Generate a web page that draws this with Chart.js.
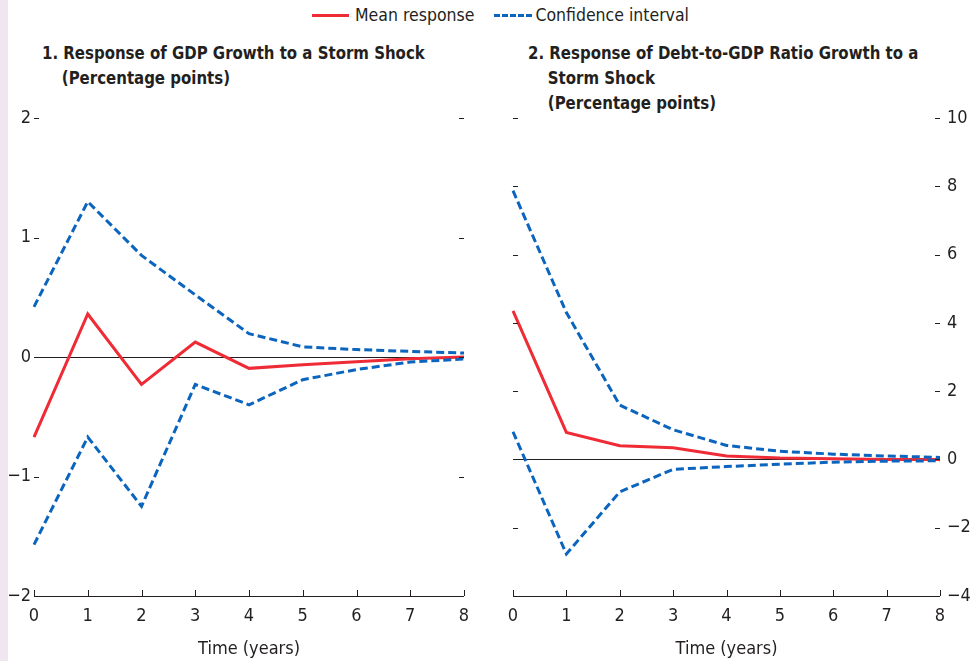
<!DOCTYPE html>
<html>
<head>
<meta charset="utf-8">
<script src="https://cdn.jsdelivr.net/npm/chart.js@4/dist/chart.umd.min.js"></script>
<style>
  body { margin: 0; width: 971px; height: 661px; background: #fff; overflow: hidden; position: relative;
         font-family: "DejaVu Sans Condensed", "Roboto", sans-serif; color: #231f20; }
  .strip { position: absolute; left: 0; top: 0; width: 8px; height: 661px; background: #efe6f0; }
  .legend { position: absolute; top: 5px; left: 312px; font-size: 17.5px; display: flex; align-items: center; white-space: nowrap; }
  .legend .key { display: inline-block; width: 37px; height: 0; margin-right: 6px; }
  .legend .mean { border-top: 3px solid #ef2b36; }
  .legend .ci { border-top: 3px dashed #0b64bd; width: 38px; margin-left: 20px; margin-right: 3px; }
  .title { position: absolute; font-weight: bold; font-size: 18.5px; line-height: 25px; padding-left: 22px; text-indent: -22px;
           white-space: nowrap; transform: scaleX(0.9); transform-origin: left top; }
  canvas { position: absolute; top: 0; }
</style>
</head>
<body>
<div class="strip"></div>
<div class="legend"><span class="key mean"></span>Mean response<span class="key ci"></span>Confidence interval</div>
<div class="title" style="left:42px; top:40px;">1. Response of GDP Growth to a Storm Shock<br>(Percentage points)</div>
<div class="title" style="left:528px; top:40px;">2. Response of Debt-to-GDP Ratio Growth to a<br>Storm Shock<br>(Percentage points)</div>
<div style="position:absolute; left:0; width:490px; height:661px;"><canvas id="gdpChart"></canvas></div>
<div style="position:absolute; left:490px; width:481px; height:661px;"><canvas id="debtChart"></canvas></div>
<script>
// years after the shock
const years = [0, 1, 2, 3, 4, 5, 6, 7, 8];

// panel 1: GDP growth, percentage points
const gdpMean  = [-0.67, 0.36, -0.23, 0.125, -0.095, -0.065, -0.04, -0.015, 0.0];
const gdpUpper = [0.42, 1.30, 0.85, 0.52, 0.195, 0.085, 0.062, 0.047, 0.033];
const gdpLower = [-1.57, -0.67, -1.25, -0.23, -0.40, -0.19, -0.105, -0.042, -0.017];
const gdpTicks = [-2, -1, 0, 1, 2];

// panel 2: debt-to-GDP ratio growth, percentage points
const debtMean  = [4.35, 0.79, 0.40, 0.34, 0.10, 0.04, 0.02, 0.0, 0.0];
const debtUpper = [7.87, 4.3, 1.59, 0.87, 0.41, 0.24, 0.155, 0.10, 0.06];
const debtLower = [0.81, -2.77, -0.95, -0.29, -0.21, -0.14, -0.08, -0.05, -0.04];
const debtTicks = [-4, -2, 0, 2, 4, 6, 8, 10];

const RED = '#ef2b36';
const BLUE = '#0b64bd';
const INK = '#231f20';
const FONT = '"DejaVu Sans Condensed", Roboto, sans-serif';

const fmt = v => (v < 0 ? '\u2212' + Math.abs(v) : String(v));

// short tick marks pointing into the plot, plus the x baseline
const innerTicks = {
    id: 'innerTicks',
    afterDatasetsDraw(chart) {
        const { ctx, chartArea: a, scales } = chart;
        const x = scales.x, y = scales.y;
        ctx.save();
        ctx.strokeStyle = INK;
        ctx.lineWidth = 1;
        ctx.beginPath();
        ctx.moveTo(a.left, a.bottom + 0.5);
        ctx.lineTo(a.right, a.bottom + 0.5);
        x.ticks.forEach((t, i) => {
            const px = Math.round(x.getPixelForTick(i)) + 0.5;
            ctx.moveTo(px, a.bottom);
            ctx.lineTo(px, a.bottom - 6);
        });
        y.ticks.forEach(t => {
            if (t.value === y.min) return;
            const py = Math.round(y.getPixelForValue(t.value)) + 0.5;
            ctx.moveTo(a.left, py);
            ctx.lineTo(a.left + 5, py);
            ctx.moveTo(a.right - 5, py);
            ctx.lineTo(a.right, py);
        });
        ctx.stroke();
        ctx.restore();
    }
};

function lineSet(data, color, dashed) {
    return {
        data: data,
        borderColor: color,
        borderWidth: 3,
        borderDash: dashed ? [8, 4] : [],
        pointRadius: 0,
        tension: 0,
        fill: false
    };
}

function renderPanel(canvasId, mean, upper, lower, ticks, side, pad) {
    const ctx = document.getElementById(canvasId);
    new Chart(ctx, {
        type: 'line',
        data: {
            labels: years,
            datasets: [
                lineSet(upper, BLUE, true),
                lineSet(lower, BLUE, true),
                lineSet(mean, RED, false)
            ]
        },
        plugins: [innerTicks],
        options: {
            responsive: true,
            maintainAspectRatio: false,
            animation: false,
            events: [],
            layout: { padding: pad },
            plugins: { legend: { display: false }, tooltip: { enabled: false } },
            scales: {
                x: {
                    grid: { display: false },
                    border: { display: false },
                    ticks: { color: INK, font: { family: FONT, size: 18 }, padding: 2, maxRotation: 0 },
                    title: { display: true, text: 'Time (years)', color: INK, font: { family: FONT, size: 18 }, padding: { top: 0, bottom: 1 } },
                    afterFit: s => { s.height = 65; }
                },
                y: {
                    position: side,
                    min: ticks[0],
                    max: ticks[ticks.length - 1],
                    afterBuildTicks: s => { s.ticks = ticks.map(v => ({ value: v })); },
                    grid: {
                        drawTicks: false,
                        color: c => (c.tick && c.tick.value === 0 ? INK : 'rgba(0,0,0,0)'),
                        lineWidth: 1
                    },
                    border: { display: false },
                    ticks: { color: INK, font: { family: FONT, size: 18 }, padding: side === 'left' ? 3 : 7, callback: fmt },
                    afterFit: s => { s.width = side === 'left' ? 34 : 31; }
                }
            }
        }
    });
}

renderPanel('gdpChart', gdpMean, gdpUpper, gdpLower, gdpTicks, 'left', { top: 118, right: 26, left: 0, bottom: 0 });
renderPanel('debtChart', debtMean, debtUpper, debtLower, debtTicks, 'right', { top: 118, left: 23, right: 0, bottom: 0 });
</script>
</body>
</html>
